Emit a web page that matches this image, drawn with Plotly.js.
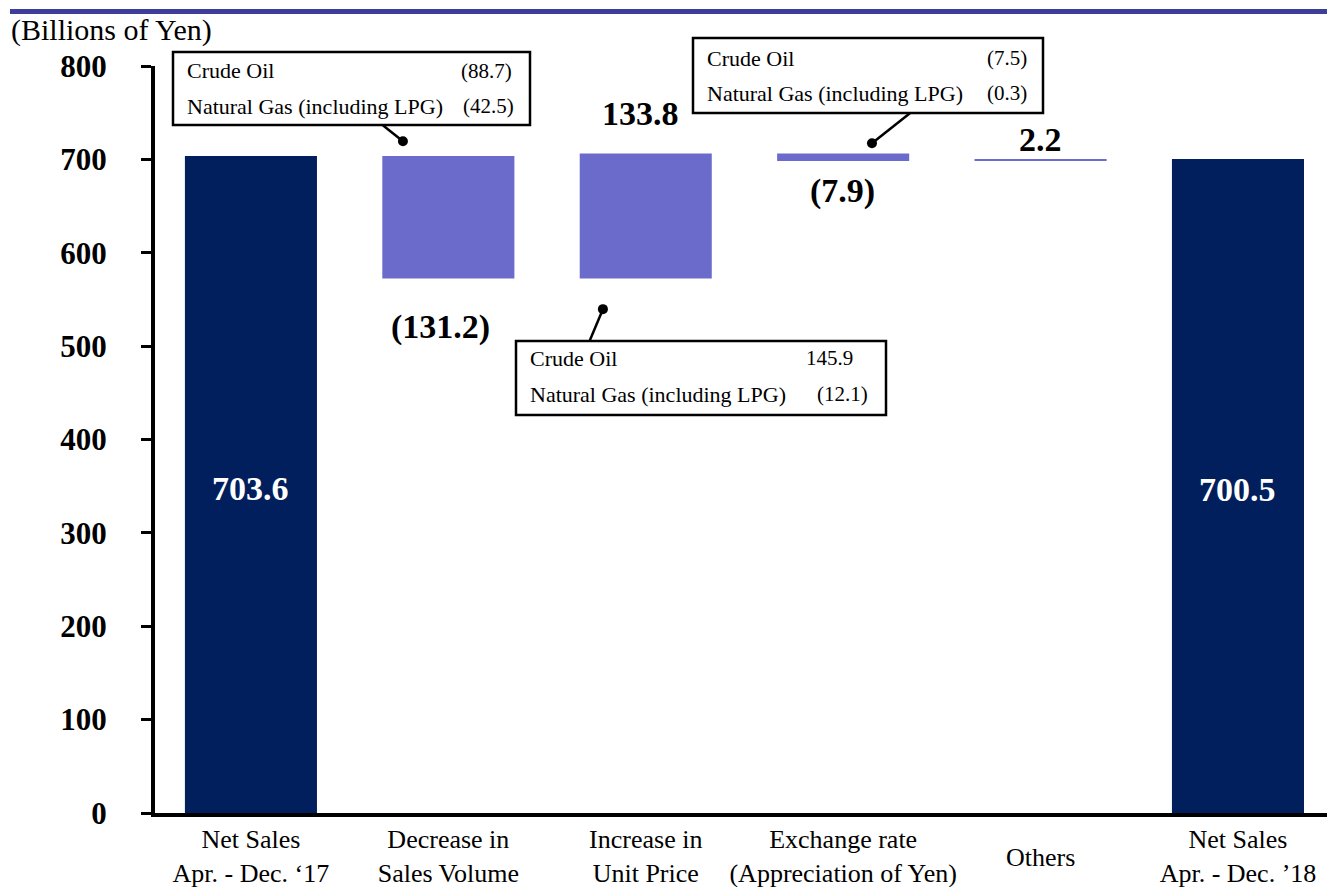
<!DOCTYPE html>
<html><head><meta charset="utf-8">
<script src="https://cdn.plot.ly/plotly-3.0.1.min.js"></script>
<style>html,body{margin:0;padding:0;background:#fff;} #chart{width:1327px;height:887px;}</style>
</head><body><div id="chart"></div>
<script>
// ---- data ----
const categories = ["Net Sales<br>Apr. - Dec. \u201817", "Decrease in<br>Sales Volume", "Increase in<br>Unit Price",
  "Exchange rate<br>(Appreciation of Yen)", "Others", "Net Sales<br>Apr. - Dec. \u201918"];
const measures = ["absolute", "relative", "relative", "relative", "relative", "total"];
const values = [703.6, -131.2, 133.8, -7.9, 2.2, 700.5];
const valueLabels = ["703.6", "(131.2)", "133.8", "(7.9)", "2.2", "700.5"];
const yTickValues = [0, 100, 200, 300, 400, 500, 600, 700, 800];
const breakdownItems = ["Crude Oil", "Natural Gas (including LPG)"];
const volumeBreakdown = ["(88.7)", "(42.5)"];
const priceBreakdown = ["145.9", "(12.1)"];
const fxBreakdown = ["(7.5)", "(0.3)"];
const unitLabel = "(Billions of Yen)";

// ---- layout geometry (pixels) ----
const W = 1327, H = 887;
const L = 155, T = 66, B = 813;
const plotW = W - L, plotH = B - T;
const px = x => (x - L) / plotW;
const py = y => (B - y) / plotH;

const serif = "Liberation Serif, Times New Roman, serif";
const navy = "#001f5c", violet = "#6b6bcc";

const trace = {
  type: "waterfall",
  x: categories,
  y: values,
  measure: measures,
  width: 0.669,
  textposition: "none",
  hoverinfo: "skip",
  connector: {visible: false},
  increasing: {marker: {color: violet}},
  decreasing: {marker: {color: violet}},
  totals: {marker: {color: navy}},
  showlegend: false
};

// running levels for label anchoring
const levels = [];
let run = 0;
values.forEach((v, i) => {
  if (measures[i] === "absolute") { levels.push({lo: 0, hi: v}); run = v; }
  else if (measures[i] === "total") { levels.push({lo: 0, hi: run}); }
  else { const s = run, e = run + v; levels.push({lo: Math.min(s, e), hi: Math.max(s, e)}); run = e; }
});

const annotations = [];
valueLabels.forEach((t, i) => {
  const m = measures[i], v = values[i], lv = levels[i];
  let y, ys = 0, xs = 0, col = "#000";
  if (m !== "relative") { y = lv.hi / 2; ys = -4; col = "#fff"; }
  else if (v < 0) { y = lv.lo; ys = (i === 1) ? -48 : -30; xs = (i === 1) ? -8 : -1; }
  else { y = lv.hi; ys = (i === 2) ? 40 : 19; xs = (i === 2) ? -5 : 0; }
  annotations.push({x: i, y: y, xref: "x", yref: "y", text: t, showarrow: false,
    xshift: xs, yshift: ys, xanchor: "center", yanchor: "middle",
    font: {family: serif, size: 34, color: col, weight: "bold"}});
});

// single-line category label, centred vertically between the two-line labels
const tickText = categories.map(c => c.indexOf("<br>") >= 0 ? c : "");
categories.forEach((c, i) => {
  if (c.indexOf("<br>") < 0) {
    annotations.push({x: i, xref: "x", yref: "paper", y: py(857), xanchor: "center", yanchor: "middle",
      text: c, showarrow: false, font: {family: serif, size: 26, color: "#000"}});
  }
});

annotations.push({xref: "paper", yref: "paper", x: px(9), y: py(30), xanchor: "left", yanchor: "middle",
  text: unitLabel, showarrow: false, font: {family: serif, size: 30, color: "#000"}});

const shapes = [
  {type: "rect", xref: "paper", yref: "paper", x0: px(10), x1: px(1330), y0: py(14), y1: py(9),
   fillcolor: "#3d3d9c", line: {width: 0}}
];

function box(x0, x1, y0, y1, lines, vals, lineYs, valRight) {
  shapes.push({type: "rect", xref: "paper", yref: "paper", x0: px(x0), x1: px(x1), y0: py(y1), y1: py(y0),
    fillcolor: "#fff", line: {color: "#000", width: 2.5}, layer: "above"});
  lines.forEach((t, k) => {
    annotations.push({xref: "paper", yref: "paper", x: px(x0 + 12), y: py(lineYs[k]), xanchor: "left", yanchor: "middle",
      text: t, showarrow: false, font: {family: serif, size: 22, color: "#000"}});
    annotations.push({xref: "paper", yref: "paper", x: px(valRight[k]), y: py(lineYs[k]), xanchor: "right", yanchor: "middle",
      text: vals[k], showarrow: false, font: {family: serif, size: 21, color: "#000"}});
  });
}
box(173, 530, 52, 125, breakdownItems, volumeBreakdown, [71, 106], [514, 516]);
box(693, 1043, 38, 113, breakdownItems, fxBreakdown, [58, 93], [1029, 1029]);
box(516, 886, 341, 415, breakdownItems, priceBreakdown, [358, 394], [855, 870]);

// connectors (data coords) with dots
function connector(xa, ya, xb, yb) {
  shapes.push({type: "line", xref: "x", yref: "y", x0: xa, y0: ya, x1: xb, y1: yb, line: {color: "#000", width: 2.5}});
  shapes.push({type: "circle", xref: "x", yref: "y", xsizemode: "pixel", ysizemode: "pixel",
    xanchor: xb, yanchor: yb, x0: -5, x1: 5, y0: -5, y1: 5, fillcolor: "#000", line: {color: "#000", width: 0}});
}
connector(0.668, 736.6, 0.770, 719.5);
connector(3.338, 749.5, 3.146, 717.3);
connector(1.717, 506.4, 1.783, 539.6);

const layout = {
  width: W, height: H,
  margin: {l: L, r: 0, t: T, b: H - B, pad: 0},
  paper_bgcolor: "#fff", plot_bgcolor: "#fff",
  xaxis: {type: "category", range: [-0.486, 5.451], showgrid: false, zeroline: false,
    showline: true, linecolor: "#000", linewidth: 4, ticks: "",
    tickvals: categories, ticktext: tickText,
    tickfont: {family: serif, size: 26, color: "#000"}, fixedrange: true},
  yaxis: {range: [0, 800], tickvals: yTickValues, showgrid: false, zeroline: false,
    showline: true, linecolor: "#000", linewidth: 4, ticks: "outside", ticklen: 10, tickwidth: 3, tickcolor: "#000",
    ticklabelstandoff: 28,
    tickfont: {family: serif, size: 31, color: "#000", weight: "bold"}, fixedrange: true},
  annotations: annotations,
  shapes: shapes,
  showlegend: false
};

Plotly.newPlot("chart", [trace], layout, {displayModeBar: false, staticPlot: true});
</script></body></html>
